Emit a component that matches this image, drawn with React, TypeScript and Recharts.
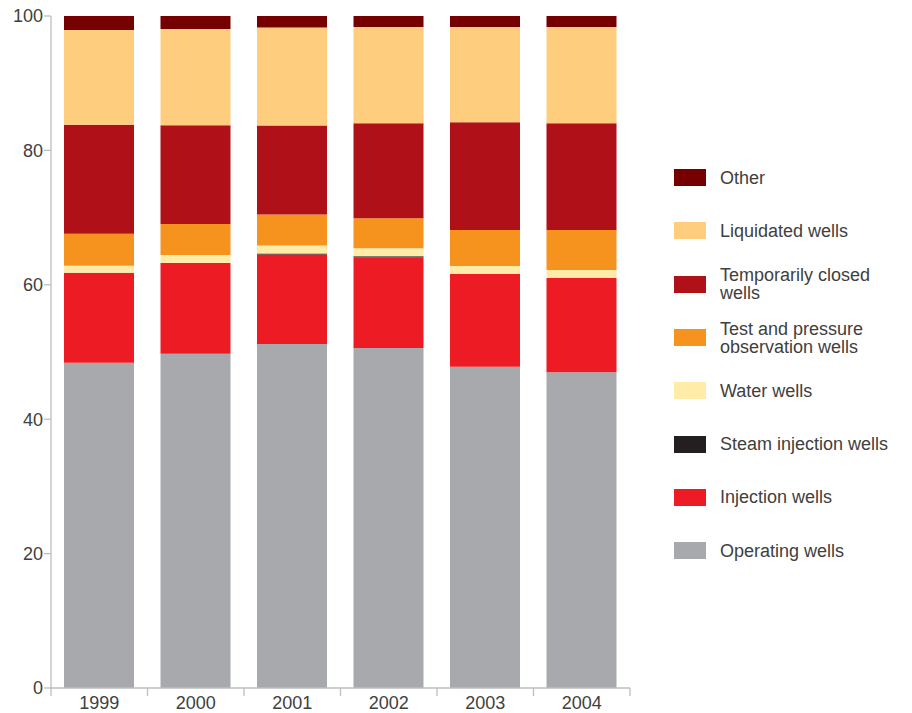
import { Bar, BarChart, XAxis, YAxis } from 'recharts';

const years = ['1999', '2000', '2001', '2002', '2003', '2004'];

const operating = [48.4, 49.75, 51.2, 50.6, 47.8, 47.0];
const injection = [13.4, 13.5, 13.3, 13.5, 13.8, 14.0];
const steam = [0, 0, 0.15, 0.15, 0, 0];
const water = [1.05, 1.2, 1.2, 1.2, 1.2, 1.2];
const testWells = [4.75, 4.6, 4.6, 4.45, 5.35, 5.95];
const tempClosed = [16.2, 14.7, 13.25, 14.15, 16.05, 15.9];
const liquidated = [14.1, 14.3, 14.6, 14.3, 14.15, 14.3];
const other = [2.1, 1.95, 1.7, 1.65, 1.65, 1.65];

const yTicks = [0, 20, 40, 60, 80, 100];

// stack order, bottom to top
const series = [
  { key: 'operating', name: 'Operating wells', label: 'Operating wells', values: operating, color: '#a7a9ac' },
  { key: 'injection', name: 'Injection wells', label: 'Injection wells', values: injection, color: '#ed1c24' },
  { key: 'steam', name: 'Steam injection wells', label: 'Steam injection wells', values: steam, color: '#231f20' },
  { key: 'water', name: 'Water wells', label: 'Water wells', values: water, color: '#feeca8' },
  { key: 'test', name: 'Test and pressure observation wells', label: 'Test and pressure\nobservation wells', values: testWells, color: '#f6921e' },
  { key: 'temp', name: 'Temporarily closed wells', label: 'Temporarily closed\nwells', values: tempClosed, color: '#b01118' },
  { key: 'liquidated', name: 'Liquidated wells', label: 'Liquidated wells', values: liquidated, color: '#fece7e' },
  { key: 'other', name: 'Other', label: 'Other', values: other, color: '#760000' }
];

const data = years.map((year, i) => {
  const row: Record<string, string | number> = { year };
  series.forEach((s) => {
    row[s.key] = s.values[i];
  });
  return row;
});

const FONT = '"Liberation Sans", Arial, sans-serif';
const AXIS = '#bcbec0';
const TEXT = '#404040';
const TICK_SIZE = 8;
const TICK_MARGIN = 2;

function YearTick(props: any) {
  const { x, y, payload, index } = props;
  const half = payload?.offset ?? 0;
  const axisY = y - TICK_SIZE - TICK_MARGIN;
  return (
    <g>
      {index === 0 && (
        <line x1={x - half} x2={x - half} y1={axisY} y2={axisY + TICK_SIZE} stroke={AXIS} strokeWidth={1.3} />
      )}
      <line x1={x + half} x2={x + half} y1={axisY} y2={axisY + TICK_SIZE} stroke={AXIS} strokeWidth={1.3} />
      <text x={x} y={y - 2} dy="0.71em" textAnchor="middle" fill={TEXT} fontSize={18} fontFamily={FONT}>
        {payload.value}
      </text>
    </g>
  );
}

function LegendBox() {
  const items = [...series].reverse();
  return (
    <div style={{ position: 'absolute', left: 674, top: 151, fontFamily: FONT, fontSize: 18, color: TEXT }}>
      {items.map((s) => (
        <div key={s.key} style={{ display: 'flex', alignItems: 'center', height: 53.3 }}>
          <div style={{ width: 32, height: 17, background: s.color, marginRight: 14, flexShrink: 0 }} />
          <div style={{ whiteSpace: 'pre-line', lineHeight: '18px' }}>{s.label}</div>
        </div>
      ))}
    </div>
  );
}

export default function App() {
  return (
    <div style={{ position: 'absolute', left: 0, top: 0, width: 912, height: 713, background: '#fff' }}>
      <BarChart width={912} height={713} data={data} margin={{ top: 16, right: 282, bottom: 0, left: 0 }}>
        <XAxis
          dataKey="year"
          height={25}
          axisLine={{ stroke: AXIS, strokeWidth: 1.3 }}
          tickLine={false}
          tickSize={TICK_SIZE}
          tickMargin={TICK_MARGIN}
          tick={<YearTick />}
          interval={0}
        />
        <YAxis
          width={51}
          domain={[0, 100]}
          ticks={yTicks}
          interval={0}
          axisLine={{ stroke: AXIS, strokeWidth: 1.3 }}
          tickLine={{ stroke: AXIS, strokeWidth: 1.3 }}
          tickSize={7}
          tickMargin={1}
          tick={{ fill: TEXT, fontSize: 18, fontFamily: FONT }}
        />
        {series.map((s) => (
          <Bar
            key={s.key}
            dataKey={s.key}
            name={s.name}
            stackId="wells"
            fill={s.color}
            barSize={70}
            isAnimationActive={false}
          />
        ))}
      </BarChart>
      <LegendBox />
    </div>
  );
}
